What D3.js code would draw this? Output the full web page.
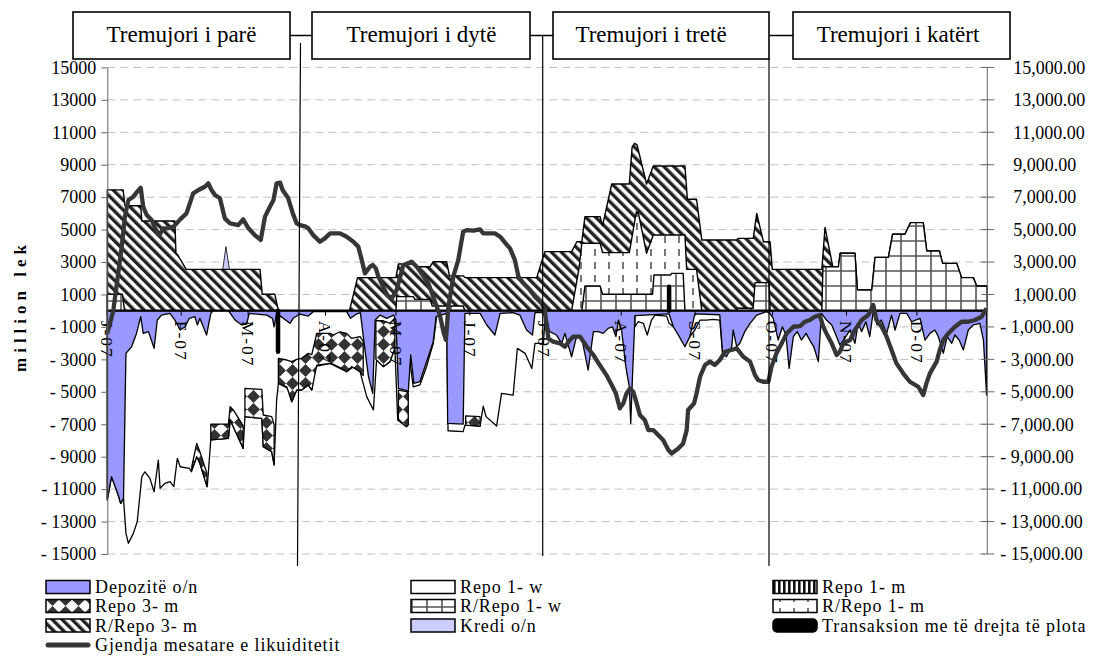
<!DOCTYPE html>
<html>
<head>
<meta charset="utf-8">
<script src="https://cdn.jsdelivr.net/npm/d3@7"></script>
<style>
  body { margin: 0; background: #fff; }
  text { font-family: "Liberation Serif", "Times New Roman", serif; }
</style>
</head>
<body>
<div id="chart"></div>
<script>
// x = trading day of 2007 (0..250), y = million lek
const monthDays = [0, 21, 40, 62, 82, 103, 124, 146, 167, 189, 210, 230];
const monthLabels = ["J-07", "F-07", "M-07", "A-07", "M-07", "J-07", "J-07", "A-07", "S-07", "O-07", "N-07", "D-07"];
const quarterLabels = ["Tremujori i parë", "Tremujori i dytë", "Tremujori i tretë", "Tremujori i katërt"];
const yTicks = d3.range(-15000, 15001, 2000);

// stack edges, [day, level]
const rr3mTop = [
  [[0, 7450], [4.5, 7450], [5.0, 6470], [9.5, 6470], [9.8, 5530], [19.2, 5530], [19.5, 3540], [20.0, 3450], [22.4, 2550], [43.4, 2550], [44.0, 1010], [47.6, 1010], [48.6, 0]],
  [[68.8, 0], [71.1, 2040], [82.0, 2040], [82.7, 2880], [86.9, 2880], [87.4, 2710], [91.7, 2710], [92.6, 3020], [96.4, 3020], [97.2, 2150], [101.1, 2150], [101.6, 2040], [122.0, 2040], [124.3, 3640], [131.9, 3640], [133.4, 4250], [134.8, 4250], [135.7, 5800], [140.0, 5800], [140.7, 5240], [143.3, 7810], [148.3, 7810], [149.1, 10100], [149.8, 10320], [150.5, 10220], [153.2, 7810], [155.1, 8920], [164.1, 8920], [164.8, 6870], [167.4, 6870], [168.9, 4360], [178.8, 4360], [179.2, 4460], [183.5, 4460], [184.5, 6000], [186.4, 4250], [188.3, 4250], [188.9, 2550], [203.0, 2550], [203.9, 5140], [206.1, 2710], [207.7, 2710], [208.2, 3540], [212.4, 3540], [213.1, 1280], [217.2, 1280], [218.1, 3290], [221.9, 3290], [223.1, 4710], [226.6, 4710], [228.2, 5430], [231.8, 5430], [232.8, 3680], [236.4, 3680], [237.3, 2920], [241.3, 2920], [242.7, 2040], [246.0, 2040], [247.0, 1520], [249.9, 1520], [250, 0]]
];
const rr1mTop = [
  [[131.9, 0], [134.0, 2600], [134.8, 4160], [140.0, 4160], [140.7, 3580], [148.3, 3580], [150.3, 6100], [150.9, 6000], [153.2, 3540], [155.1, 4670], [164.1, 4670], [164.6, 2550], [167.4, 2550], [168.9, 0]]
];
const rr1wTop = [
  [[0, 1010], [4.3, 1010], [4.9, 0]],
  [[82.0, 0], [82.2, 870], [86.9, 870], [87.4, 700], [91.7, 700], [92.3, 290], [101.1, 290], [101.6, 0]],
  [[134.8, 0], [135.7, 1520], [140.0, 1520], [140.7, 1010], [154.9, 1010], [155.3, 2200], [160.0, 2200], [160.3, 2300], [163.6, 2300], [164.1, 0]],
  [[178.8, 0], [179.0, 150], [183.5, 150], [184.0, 1730], [188.0, 1730], [188.3, 0]],
  [[203.0, 0], [203.3, 2710], [207.7, 2710], [208.2, 3540], [212.4, 3540], [213.1, 1280], [217.2, 1280], [218.1, 3290], [221.9, 3290], [223.1, 4710], [226.6, 4710], [228.2, 5430], [231.8, 5430], [232.8, 3680], [236.4, 3680], [237.3, 2920], [241.3, 2920], [242.7, 2040], [246.0, 2040], [247.0, 1520], [249.9, 1520], [250, 0]]
];
const krediTop = [
  [[32.8, 2550], [33.7, 3950], [34.7, 2550]]
];
// lower edge of Repo 1-w (whole absorption)
const repo1wBottom = [
  [[0, -11670], [1.2, -10230], [3.1, -11360], [3.8, -11880], [4.6, -11570], [5.3, -13730], [6.0, -14340], [7.4, -13730], [8.5, -13010], [9.8, -10230], [10.7, -9930], [12.1, -10340], [13.3, -11160], [14.5, -9210], [15.0, -10950], [16.4, -10640], [17.8, -10540], [18.9, -10850], [19.9, -9100], [20.7, -9620], [23.3, -9720], [23.9, -9930], [25.4, -9000], [26.3, -9410], [28.4, -10850], [29.4, -7970], [34.4, -7870], [34.9, -6740], [35.8, -7150], [38.6, -8490], [39.1, -6530], [43.9, -6640], [44.3, -8380], [46.7, -8690], [47.4, -9510], [48.1, -5510], [48.6, -4480], [51.4, -4790], [52.4, -5610], [53.8, -4890], [55.2, -4890], [57.1, -4580], [58.1, -4890], [59.0, -3450], [63.3, -3250], [68.0, -3760], [69.9, -3450], [71.8, -3760], [73.7, -5300], [75.6, -6120], [76.5, -3040], [78.4, -3450], [80.3, -3140], [81.7, -2320], [82.5, -6740], [85.0, -7150], [85.8, -2840], [86.9, -4690], [88.8, -4580], [90.7, -3450], [92.6, -2010], [93.6, -270], [96.4, -165], [96.8, -7400], [101.1, -7460], [101.6, -7050], [105.9, -7110], [106.8, -5880], [107.6, -6530], [110.6, -7110], [112.0, -5100], [115.3, -5200], [116.5, -2320], [118.7, -2630], [120.6, -3560], [121.5, -2010], [123.9, -2010], [124.4, -300]],
  [[149.9, -990], [150.8, -680], [152.3, -780], [153.4, -1500], [154.6, -575], [155.6, -270], [158.9, -330], [159.6, -780], [160.8, -990]],
  [[165.5, -1600], [166.9, -1190], [168.4, -575], [170.3, -575], [172.1, -530], [174.0, -575], [174.8, -2630]]
];
// Repo 3-m bands, [day, upper, lower]
const repo3mBands = [
  [[24.0, -9620, -9820], [25.4, -8180, -9000], [26.3, -8690, -9410], [28.3, -10030, -10850]],
  [[29.4, -6990, -7970], [34.4, -6990, -7870], [34.9, -5920, -6740], [35.8, -6120, -7150], [38.6, -7100, -8490]],
  [[39.1, -4790, -6530], [43.9, -4850, -6640], [44.3, -6430, -8380], [46.7, -6530, -8690], [47.4, -7050, -9510]],
  [[48.6, -2940, -4480], [51.0, -3040, -4700], [52.4, -3140, -5610], [53.8, -3000, -4890], [55.2, -2940, -4890], [57.1, -2630, -4580], [58.1, -2700, -4890], [59.5, -1400, -3350], [63.3, -1400, -3250], [64.2, -1500, -3300], [66.1, -1300, -3500], [68.0, -1400, -3760], [69.4, -1710, -3450], [71.8, -1600, -3760], [72.7, -1900, -4000]],
  [[76.3, -620, -3000], [78.4, -620, -3450], [80.3, -780, -3140], [81.7, -450, -2320]],
  [[82.7, -4890, -6740], [85.0, -4990, -7150], [85.5, -5100, -7050]],
  [[101.8, -6490, -7050], [105.9, -6530, -7110]]
];
const depoBottom = [
  [0, -11670], [1.2, -10230], [3.1, -11360], [3.8, -11880], [4.6, -11570], [5.3, -2630], [6.9, -2220], [8.3, -1400], [9.5, -370], [10.2, -1400], [11.7, -1290], [13.3, -2320], [14.2, -575], [15.4, -270], [17.8, -165], [19.2, -575], [20.7, -1190], [22.1, -990], [23.3, -470], [24.9, -370], [25.6, -880], [26.3, -470], [28.2, -1500], [29.4, -165], [30.1, 0], [34.4, 0], [36.3, -575], [38.2, -880], [39.6, -820], [40.3, -165], [45.3, -270], [46.9, -470], [47.4, -990], [48.1, -165], [51.9, -780], [52.8, -470], [54.7, -205], [57.1, -330], [58.5, -60], [68.0, -60], [69.1, -470], [70.8, -205], [71.9, -120], [73.2, -2420], [74.2, -4070], [75.4, -5100], [76.1, -575], [77.5, -270], [79.4, -470], [81.3, -270], [82.0, -575], [82.7, -4790], [84.6, -4890], [85.5, -4990], [86.2, -2730], [87.1, -4480], [88.8, -4380], [92.6, -1910], [93.4, -370], [96.4, -165], [96.7, -6950], [101.1, -6990], [101.6, -165], [105.9, -165], [107.8, -880], [110.1, -1500], [111.6, -165], [115.3, -120], [117.2, -270], [119.1, -1190], [120.8, -1500], [121.5, -120], [123.9, -120],
  [124.2, -300], [125.7, -1290], [127.6, -1500], [129.1, -2010], [130.0, -1400], [131.9, -2840], [133.3, -1600], [134.7, -1600], [136.6, -3660], [138.1, -1290], [139.5, -1290], [140.9, -1400], [142.3, -1090], [143.5, -990], [144.5, -1600], [145.2, -575], [146.1, -1190], [147.3, -3450], [148.3, -4690], [148.7, -6950], [149.2, -4070], [149.9, -300], [159.6, -200], [160.8, -990], [162.5, -1600], [164.1, -2220], [165.5, -1600], [166.9, -200], [174.0, -250], [174.8, -2630], [175.9, -2840], [177.4, -2220], [177.8, -1190], [178.8, -2220], [179.7, -2010], [181.1, -1290], [182.6, -780], [184.5, -270], [185.9, -165], [187.3, -60],
  [188.2, -165], [189.2, -470], [190.6, -1810], [191.8, -990], [192.8, -1500], [193.7, -3560], [194.9, -1600], [196.0, -1290], [197.2, -1810], [198.5, -1400], [199.8, -1910], [200.7, -2220], [202.0, -3140], [202.9, -165], [204.3, -575], [205.8, -880], [207.2, -1600], [208.1, -2120], [209.5, -1710], [211.0, -1190], [212.4, -2010], [213.3, -780], [214.3, -1290], [215.5, -680], [216.6, -1600], [217.6, -60], [218.7, -880], [219.9, -575], [221.4, -1400], [222.8, -270], [223.8, -1190], [225.2, -165], [227.1, -165], [228.5, -680], [230.9, -470], [232.3, -1810], [233.7, -1400], [235.1, -1190], [236.1, -1600], [237.5, -2630], [238.6, -1600], [239.9, -2010], [240.8, -1500], [242.0, -1810], [243.2, -2420], [244.6, -1190], [246.0, -880], [247.9, -780], [248.9, -1810], [249.8, -5200]
];
const liquidity = [
  [0, -1400], [1.7, 0], [3.1, 2300], [4.1, 3950], [5.0, 5800], [6.0, 6820], [7.4, 7030], [8.5, 7340], [9.5, 7580], [10.2, 6410], [11.2, 5900], [12.6, 5590], [13.6, 5080], [14.8, 4660], [15.9, 5080], [17.3, 5080], [18.8, 5180], [20.7, 5630], [22.5, 6000], [24.4, 7230], [25.9, 7440], [27.7, 7640], [28.7, 7850], [29.6, 7440], [30.6, 7130], [32.0, 6930], [33.4, 5690], [34.9, 5380], [37.2, 5280], [38.6, 5630], [40.1, 5080], [41.9, 4660], [43.6, 4360], [44.8, 5800], [46.2, 6410], [47.2, 6820], [48.1, 7850], [49.1, 7890], [49.8, 7440], [51.4, 6930], [52.7, 6000], [53.8, 5380], [54.7, 5280], [56.4, 5180], [57.1, 5080], [58.5, 4660], [60.4, 4250], [61.8, 4460], [63.3, 4770], [66.1, 4770], [68.0, 4560], [69.9, 4250], [71.3, 3950], [72.3, 3120], [73.2, 2300], [74.6, 2710], [75.4, 2820], [76.3, 2610], [77.0, 2100], [78.4, 1480], [79.5, 970], [80.8, 760], [82.2, 1270], [84.1, 2820], [86.5, 3020], [87.9, 2710], [89.3, 2300], [91.2, 1690], [92.6, 860], [93.6, 250], [94.5, -300], [95.5, -1300], [96.2, -1800], [96.9, 250], [98.3, 2100], [99.7, 3120], [101.1, 4870], [102.1, 4970], [104.0, 4930], [105.9, 5010], [106.8, 4770], [110.1, 4770], [111.6, 4560], [113.0, 4190], [114.4, 3840], [115.8, 3120], [116.8, 2100], [118.2, 1690], [120.1, 1270], [121.5, 860], [123.4, 450], [124.3, 0],
  [125.3, -1710], [126.7, -1910], [128.6, -2010], [130.0, -2220], [131.4, -1810], [132.4, -1600], [134.3, -1600], [136.2, -2220], [138.1, -2730], [139.9, -3350], [141.8, -3970], [143.3, -4580], [144.5, -5100], [145.6, -6020], [146.6, -5710], [147.5, -5100], [148.5, -4790], [149.4, -4990], [150.4, -5710], [151.3, -6430], [152.7, -6740], [153.7, -7360], [155.1, -7360], [156.5, -7670], [157.9, -7970], [159.4, -8590], [160.3, -8800], [162.2, -8490], [163.6, -8180], [164.6, -7360], [165.0, -6120], [166.7, -5710], [167.4, -5100], [168.4, -4070], [169.8, -3350], [171.2, -3140], [172.6, -3350], [174.0, -3040], [175.5, -2530], [177.3, -2420], [178.8, -2320], [180.7, -2840], [182.6, -3140], [184.0, -3970], [184.9, -4270], [186.3, -4380], [187.8, -4380],
  [188.7, -3450], [190.1, -2630], [191.6, -2010], [193.0, -1400], [194.9, -990], [196.8, -950], [198.2, -680], [199.6, -575], [201.0, -370], [202.4, -270], [203.4, -990], [204.3, -1400], [205.8, -2010], [207.2, -2730], [208.1, -2530], [209.1, -2010], [211.0, -1810], [212.4, -1190], [214.3, -575], [216.2, -270], [217.6, 350], [218.5, -575], [220.0, -990], [221.4, -1600], [222.8, -2420], [224.2, -3250], [226.1, -3860], [228.0, -4380], [230.4, -4690], [231.8, -5200], [232.7, -4480], [233.7, -3860], [235.6, -3140], [236.5, -2420], [237.5, -1810], [238.9, -1400], [240.8, -990], [242.7, -680], [244.6, -680], [246.5, -575], [248.4, -370], [249.8, 140]
];
const transDays = [48.5, 159.6];
const transValues = [-2530, 1480];

const width = 1098, height = 656;
const plotLeft = 107.3, plotRight = 987.3, plotTop = 67.4, plotBottom = 554;

const x = d3.scaleLinear().domain([0, 250]).range([plotLeft, plotRight]);
const y = d3.scaleLinear().domain([-15000, 15000]).range([plotBottom, plotTop]);

const svg = d3.select("#chart").append("svg")
  .attr("width", width)
  .attr("height", height);

const defs = svg.append("defs");

function pat(id, w, h, tr) {
  const p = defs.append("pattern").attr("id", id)
    .attr("patternUnits", "userSpaceOnUse")
    .attr("width", w).attr("height", h);
  if (tr) p.attr("patternTransform", tr);
  p.append("rect").attr("width", w).attr("height", h).attr("fill", "#fff");
  return p;
}
pat("hatch", 7, 7, "rotate(-45)").append("rect").attr("width", 3.4).attr("height", 7).attr("fill", "#222");
const gp = pat("grid", 15, 15);
gp.append("path").attr("d", "M1,0V15M0,1H15").attr("stroke", "#555").attr("stroke-width", 1.6);
pat("dash", 14, 13).append("line").attr("x1", 7).attr("x2", 7).attr("y1", 2).attr("y2", 9)
  .attr("stroke", "#555").attr("stroke-width", 1.6);
pat("diamond", 13, 13).append("polygon").attr("points", "6.5,0 13,6.5 6.5,13 0,6.5").attr("fill", "#333");
pat("vbars", 5, 5).append("rect").attr("width", 2.6).attr("height", 5).attr("fill", "#111");

// grid lines
svg.append("g").selectAll("line")
  .data(yTicks)
  .join("line")
  .attr("x1", plotLeft).attr("x2", plotRight)
  .attr("y1", d => y(d)).attr("y2", d => y(d))
  .attr("stroke", "#c0c0c0")
  .attr("stroke-dasharray", "8,5");

const area = d3.area().x(d => x(d[0])).y0(y(0)).y1(d => y(d[1]));
const band = d3.area().x(d => x(d[0])).y0(d => y(d[1])).y1(d => y(d[2]));

const plot = svg.append("g");
function layer(segs, gen, fill, sw) {
  plot.append("g").selectAll("path")
    .data(segs)
    .join("path")
    .attr("d", gen)
    .attr("fill", fill)
    .attr("stroke", "#000")
    .attr("stroke-width", sw)
    .attr("stroke-linejoin", "round");
}
layer(krediTop, area, "#ccccff", 0.8);
layer(rr3mTop, area, "url(#hatch)", 1.4);
layer(rr1mTop, area, "url(#dash)", 1.4);
layer(rr1wTop, area, "url(#grid)", 1.4);
layer(repo1wBottom, area, "#fff", 1.3);
layer(repo3mBands, band, "url(#diamond)", 1.3);
layer([depoBottom], area, "#9999ff", 1.3);

// zero line
svg.append("line")
  .attr("x1", plotLeft).attr("x2", plotRight)
  .attr("y1", y(0)).attr("y2", y(0))
  .attr("stroke", "#000").attr("stroke-width", 2.2);

// month ticks and labels
const months = svg.append("g")
  .selectAll("g")
  .data(monthDays)
  .join("g")
  .attr("transform", d => `translate(${x(d)},${y(0)})`);
months.append("line").attr("y2", 5).attr("stroke", "#000");
months.append("text")
  .text((d, i) => monthLabels[i])
  .attr("transform", "translate(0,10) rotate(90)")
  .attr("dy", "0.35em")
  .attr("font-size", 17.5)
  .attr("letter-spacing", 2);

// outright transactions
svg.append("g").selectAll("line")
  .data(transDays)
  .join("line")
  .attr("x1", d => x(d)).attr("x2", d => x(d))
  .attr("y1", y(0))
  .attr("y2", (d, i) => y(transValues[i]))
  .attr("stroke", "#000")
  .attr("stroke-width", 4.5)
  .attr("stroke-linecap", "round");

// liquidity line
svg.append("path")
  .datum(liquidity)
  .attr("d", d3.line().x(d => x(d[0])).y(d => y(d[1])))
  .attr("fill", "none")
  .attr("stroke", "#363636")
  .attr("stroke-width", 4.3)
  .attr("stroke-linejoin", "round");

// quarter dividers and boxes
const dividers = [[300.5, 43, 297.5, 566], [542.7, 35.5, 542.7, 556], [769, 59, 769, 566]];
svg.append("g").selectAll("line")
  .data(dividers)
  .join("line")
  .attr("x1", d => d[0]).attr("y1", d => d[1])
  .attr("x2", d => d[2]).attr("y2", d => d[3])
  .attr("stroke", "#000").attr("stroke-width", 1.2);

const boxes = [[73, 217], [312, 218], [553, 216], [793, 217]];
const textX = [181.5, 421.5, 651, 898];
svg.append("g").selectAll("line")
  .data([[290, 312], [530, 553], [769, 793]])
  .join("line")
  .attr("x1", d => d[0]).attr("x2", d => d[1])
  .attr("y1", 35.5).attr("y2", 35.5)
  .attr("stroke", "#000").attr("stroke-width", 1.5);
const qb = svg.append("g").selectAll("g")
  .data(quarterLabels)
  .join("g");
qb.append("rect")
  .attr("x", (d, i) => boxes[i][0]).attr("y", 12)
  .attr("width", (d, i) => boxes[i][1]).attr("height", 47)
  .attr("fill", "#fff").attr("stroke", "#000").attr("stroke-width", 1.6);
qb.append("text")
  .attr("x", (d, i) => textX[i]).attr("y", 42)
  .attr("text-anchor", "middle")
  .attr("font-size", 23)
  .text(d => d);

// axes
const yl = svg.append("g")
  .attr("transform", `translate(${plotLeft},0)`)
  .call(d3.axisLeft(y).tickValues(yTicks).tickSize(6).tickSizeOuter(0).tickPadding(5)
    .tickFormat(v => v < 0 ? "- " + Math.abs(v) : String(v)));
yl.selectAll("text").attr("font-size", 18).attr("font-family", "Liberation Serif").attr("fill", "#000");
yl.selectAll("line, path").attr("stroke", "#666");

const fmt = d3.format(",.2f");
const yr = svg.append("g").attr("transform", `translate(${plotRight},0)`);
yr.append("line").attr("y1", plotTop).attr("y2", plotBottom).attr("stroke", "#666");
const rt = yr.selectAll("g").data(yTicks).join("g").attr("transform", d => `translate(0,${y(d)})`);
rt.append("line").attr("x1", -6).attr("x2", 7).attr("stroke", "#666");
rt.append("text")
  .attr("x", d => d < 0 ? 13 : 26)
  .attr("dy", "0.35em")
  .attr("font-size", 18)
  .text(d => (d < 0 ? "- " : "") + fmt(Math.abs(d)));

svg.append("text")
  .attr("transform", "translate(26,306) rotate(-90)")
  .attr("text-anchor", "middle")
  .attr("font-size", 17)
  .attr("font-weight", "bold")
  .attr("letter-spacing", 5)
  .text("million lek");

// legend
const legendItems = [
  { label: "Depozitë o/n", fill: "#9999ff", col: 0, row: 0 },
  { label: "Repo 1- w", fill: "#fff", col: 1, row: 0 },
  { label: "Repo 1- m", fill: "url(#vbars)", col: 2, row: 0 },
  { label: "Repo 3- m", fill: "url(#diamond)", col: 0, row: 1 },
  { label: "R/Repo 1- w", fill: "url(#grid)", col: 1, row: 1 },
  { label: "R/Repo 1- m", fill: "url(#dash)", col: 2, row: 1 },
  { label: "R/Repo 3- m", fill: "url(#hatch)", col: 0, row: 2 },
  { label: "Kredi o/n", fill: "#ccccff", col: 1, row: 2 },
  { label: "Transaksion me të drejta të plota", fill: "#000", col: 2, row: 2, round: true },
  { label: "Gjendja mesatare e likuiditetit", line: true, col: 0, row: 3 }
];
const colX = [46, 411, 773], rowY = [587, 606, 625.5, 645];
const lg = svg.append("g").selectAll("g")
  .data(legendItems)
  .join("g")
  .attr("transform", d => `translate(${colX[d.col]},${rowY[d.row]})`);
lg.filter(d => !d.line).append("rect")
  .attr("y", -6.5).attr("width", 44).attr("height", 13)
  .attr("rx", d => d.round ? 4 : 0)
  .attr("fill", d => d.fill)
  .attr("stroke", "#000").attr("stroke-width", 1.5);
lg.filter(d => d.line).append("line")
  .attr("x1", 2).attr("x2", 42)
  .attr("stroke", "#363636").attr("stroke-width", 5).attr("stroke-linecap", "round");
lg.append("text")
  .attr("x", 49).attr("dy", "0.35em")
  .attr("font-size", 18)
  .attr("letter-spacing", 0.9)
  .text(d => d.label);
</script>
</body>
</html>
